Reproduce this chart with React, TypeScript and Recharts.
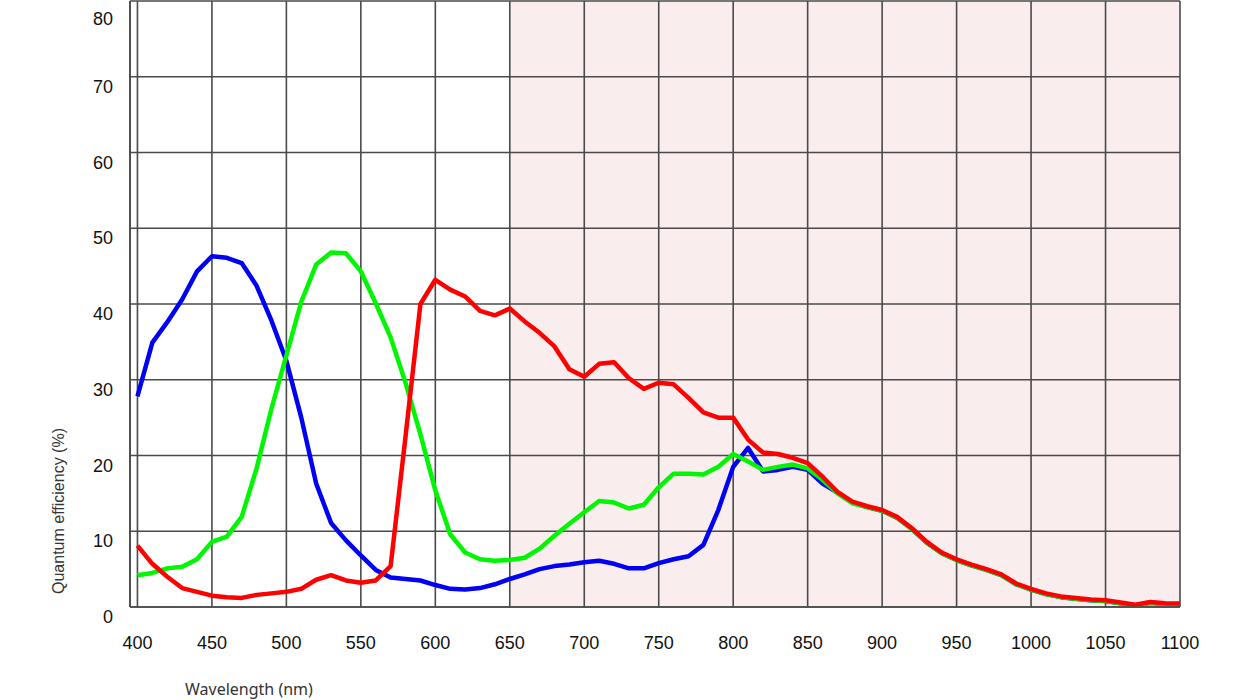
import { LineChart, Line, XAxis, YAxis, CartesianGrid } from "recharts"

const wavelengths = [
  400, 410, 420, 430, 440, 450, 460, 470, 480, 490, 500, 510, 520, 530, 540, 550, 560, 570, 580, 590,
  600, 610, 620, 630, 640, 650, 660, 670, 680, 690, 700, 710, 720, 730, 740, 750, 760, 770, 780, 790,
  800, 810, 820, 830, 840, 850, 860, 870, 880, 890, 900, 910, 920, 930, 940, 950, 960, 970, 980, 990,
  1000, 1010, 1020, 1030, 1040, 1050, 1060, 1070, 1080, 1090, 1100,
]

const blueQE = [
  27.8, 34.9, 37.6, 40.6, 44.3, 46.3, 46.1, 45.4, 42.4, 37.8, 32.5, 25.0, 16.3, 11.1, 8.8, 6.8, 4.9, 3.9, 3.7, 3.5,
  2.9, 2.4, 2.3, 2.5, 3.0, 3.7, 4.3, 5.0, 5.4, 5.6, 5.9, 6.1, 5.7, 5.1, 5.1, 5.8, 6.3, 6.7, 8.2, 12.8,
  18.5, 21.0, 17.9, 18.1, 18.5, 18.1, 16.3, 15.1, 13.8, 13.2, 12.7, 11.8, 10.3, 8.5, 7.1, 6.2, 5.5, 4.9, 4.2, 3.0,
  2.3, 1.7, 1.3, 1.1, 0.9, 0.8, 0.5, 0.2, 0.55, 0.4, 0.35,
]

const greenQE = [
  4.2, 4.5, 5.1, 5.3, 6.3, 8.6, 9.3, 11.9, 18.3, 26.2, 33.2, 40.3, 45.2, 46.8, 46.7, 44.3, 40.1, 35.6, 29.6, 22.8,
  15.4, 9.6, 7.2, 6.3, 6.1, 6.2, 6.5, 7.7, 9.4, 11.0, 12.5, 14.0, 13.8, 13.0, 13.5, 15.8, 17.6, 17.6, 17.5, 18.5,
  20.2, 19.2, 18.1, 18.5, 18.8, 18.3, 16.8, 15.0, 13.7, 13.2, 12.7, 11.8, 10.3, 8.5, 7.1, 6.2, 5.5, 4.9, 4.2, 3.0,
  2.3, 1.7, 1.3, 1.1, 0.9, 0.8, 0.5, 0.2, 0.55, 0.4, 0.35,
]

const redQE = [
  8.1, 5.7, 4.0, 2.5, 2.0, 1.5, 1.3, 1.2, 1.6, 1.8, 2.0, 2.4, 3.6, 4.2, 3.5, 3.2, 3.5, 5.4, 22.5, 40.0,
  43.2, 41.9, 41.0, 39.1, 38.5, 39.4, 37.7, 36.2, 34.4, 31.4, 30.4, 32.1, 32.3, 30.2, 28.8, 29.6, 29.4, 27.6, 25.7, 25.0,
  25.0, 22.1, 20.4, 20.2, 19.7, 19.0, 17.2, 15.2, 13.9, 13.3, 12.8, 11.9, 10.4, 8.6, 7.2, 6.3, 5.6, 5.0, 4.3, 3.1,
  2.4, 1.8, 1.4, 1.2, 1.0, 0.9, 0.6, 0.3, 0.65, 0.5, 0.45,
]

const xTicks = [400, 450, 500, 550, 600, 650, 700, 750, 800, 850, 900, 950, 1000, 1050, 1100]
const yTicks = [0, 10, 20, 30, 40, 50, 60, 70, 80]

// near-infrared band (650 nm and up) is shaded
const IR_START = 650

const data = wavelengths.map((w, i) => ({ w, blue: blueQE[i], green: greenQE[i], red: redQE[i] }))

const GRID = "#4a4a4a"
const IR_FILL = "#faeded"
const TICK_FONT = "'Liberation Sans', Arial, sans-serif"

// stripe 0 runs from the chart edge to the 400 line, then one stripe per tick gap
const stripeFills = ["none", ...xTicks.slice(0, -1).map((t) => (t >= IR_START ? IR_FILL : "none"))]

function XTick(props: any) {
  const { x, payload } = props
  return (
    <text x={x} y={643} textAnchor="middle" dominantBaseline="central" fontFamily={TICK_FONT} fontSize={18} fill="#111">
      {payload.value}
    </text>
  )
}

function YTick(props: any) {
  const { y, payload } = props
  return (
    <text x={113} y={y + 10} textAnchor="end" dominantBaseline="central" fontFamily={TICK_FONT} fontSize={18} fill="#111">
      {payload.value}
    </text>
  )
}

export default function App() {
  return (
    <div style={{ position: "absolute", left: 0, top: 0, width: 1250, height: 700, background: "#fff" }}>
      <LineChart width={1250} height={700} data={data} margin={{ top: 1, right: 70, bottom: 33, left: 70 }}>
        <CartesianGrid stroke={GRID} strokeWidth={1.6} strokeOpacity={1} verticalFill={stripeFills} />
        <XAxis
          dataKey="w"
          type="number"
          domain={[395, 1100]}
          ticks={xTicks}
          allowDataOverflow
          height={60}
          tickLine={false}
          axisLine={{ stroke: GRID, strokeWidth: 1.6 }}
          tick={<XTick />}
          label={{
            content: () => (
              <text x={185} y={689} dominantBaseline="central" fontFamily="'Noto Sans', sans-serif" fontSize={16} fill="#333">
                Wavelength (nm)
              </text>
            ),
          }}
        />
        <YAxis
          type="number"
          domain={[0, 80]}
          ticks={yTicks}
          width={60}
          tickLine={false}
          axisLine={{ stroke: GRID, strokeWidth: 1.6 }}
          tick={<YTick />}
          label={{
            content: () => (
              <text
                x={58}
                y={511}
                transform="rotate(-90 58 511)"
                textAnchor="middle"
                dominantBaseline="central"
                fontFamily={TICK_FONT}
                fontSize={16}
                fill="#333"
              >
                Quantum efficiency (%)
              </text>
            ),
          }}
        />
        <Line type="linear" dataKey="blue" stroke="#0000f5" strokeWidth={4.5} dot={false} isAnimationActive={false} strokeLinejoin="round" />
        <Line type="linear" dataKey="green" stroke="#00f500" strokeWidth={4.5} dot={false} isAnimationActive={false} strokeLinejoin="round" />
        <Line type="linear" dataKey="red" stroke="#ff0000" strokeWidth={4.5} dot={false} isAnimationActive={false} strokeLinejoin="round" />
      </LineChart>
    </div>
  )
}
